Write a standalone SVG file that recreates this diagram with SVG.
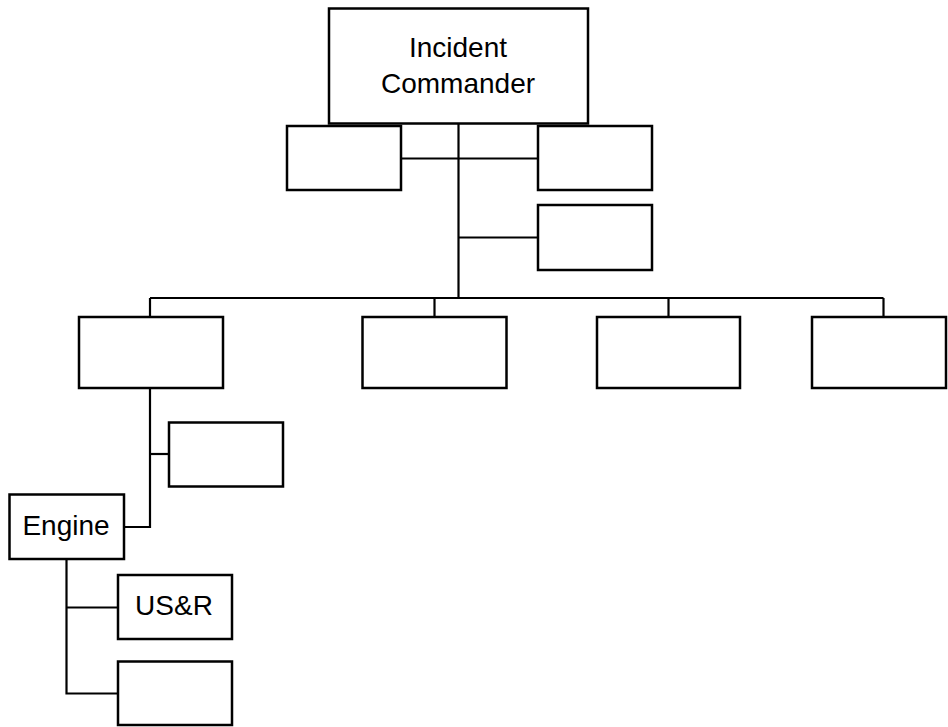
<svg xmlns="http://www.w3.org/2000/svg" width="948" height="727" viewBox="0 0 948 727">
<style>
.box{fill:#fff;stroke:#000;stroke-width:2.5}
.ln{fill:none;stroke:#000;stroke-width:2.2}
.lbl{font-family:"Liberation Sans",Arial,sans-serif;font-size:28px;fill:#000;text-anchor:middle}
</style>
<rect width="948" height="727" fill="#fff"/>
<g id="connectors">
<path class="ln" d="M458.5 123V298"/>
<path class="ln" d="M401 158.5H538"/>
<path class="ln" d="M458.5 237.5H538"/>
<path class="ln" d="M150 298H883.5"/>
<path class="ln" d="M150 298V317"/>
<path class="ln" d="M434.5 298V317"/>
<path class="ln" d="M668.5 298V317"/>
<path class="ln" d="M883.5 298V317"/>
<path class="ln" d="M150 388V527H124"/>
<path class="ln" d="M150 454H169"/>
<path class="ln" d="M66.5 559V693.5H118"/>
<path class="ln" d="M66.5 607.5H118"/>
</g>
<g id="incident-commander">
<rect class="box" x="329" y="8.5" width="259" height="115"/>
<text class="lbl" x="458" y="57">Incident</text>
<text class="lbl" x="458" y="93">Commander</text>
</g>
<g id="staff-left"><rect class="box" x="287" y="126" width="114" height="64"/></g>
<g id="staff-right"><rect class="box" x="538" y="126" width="114" height="64"/></g>
<g id="staff-right-2"><rect class="box" x="538" y="205" width="114" height="65"/></g>
<g id="section-1"><rect class="box" x="79" y="317" width="144" height="71"/></g>
<g id="section-2"><rect class="box" x="362.5" y="317" width="144" height="71"/></g>
<g id="section-3"><rect class="box" x="597" y="317" width="143" height="71"/></g>
<g id="section-4"><rect class="box" x="812" y="317" width="134" height="71"/></g>
<g id="sub-1"><rect class="box" x="169" y="422.5" width="114" height="64"/></g>
<g id="engine">
<rect class="box" x="9.5" y="494.5" width="114.5" height="64.5"/>
<text class="lbl" x="66" y="535">Engine</text>
</g>
<g id="usr">
<rect class="box" x="118" y="575" width="114" height="64"/>
<text class="lbl" x="174" y="615" font-size="26">US&amp;R</text>
</g>
<g id="unit-2"><rect class="box" x="118" y="661.5" width="114" height="63.5"/></g>
</svg>
